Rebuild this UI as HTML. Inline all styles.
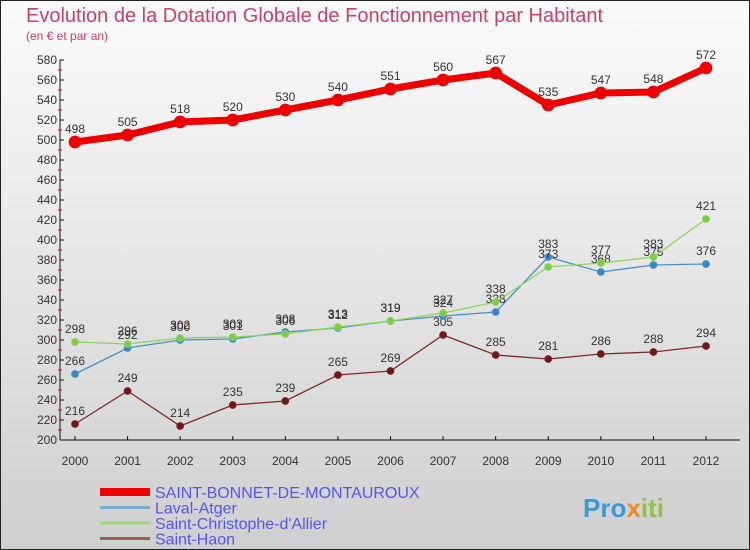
<!DOCTYPE html>
<html><head><meta charset="utf-8"><style>
body{margin:0;width:750px;height:550px;overflow:hidden;font-family:"Liberation Sans",sans-serif}
svg{display:block}
</style></head><body>
<svg id="c" width="750" height="550" xmlns="http://www.w3.org/2000/svg">
<defs><linearGradient id="bg" x1="0" y1="0" x2="0" y2="1"><stop offset="0" stop-color="#fbfbfb"/><stop offset="1" stop-color="#cfcfcf"/></linearGradient></defs>
<rect x="0" y="0" width="750" height="550" fill="url(#bg)" stroke="#222" stroke-width="2"/>
<text x="26" y="22" font-size="20" fill="#c8406e">Evolution de la Dotation Globale de Fonctionnement par Habitant</text>
<text x="26" y="40" font-size="12" fill="#c8406e">(en € et par an)</text>
<g id="axes"></g><g id="series"></g><g id="legend"></g>
<text x="583" y="517" font-size="26" font-weight="bold" fill="#3a9ad9">Pro<tspan fill="#f08a1c">x</tspan><tspan fill="#8bc34a">iti</tspan></text>
</svg>
<script>
const years=[2000,2001,2002,2003,2004,2005,2006,2007,2008,2009,2010,2011,2012];
const yTicks=[200,220,240,260,280,300,320,340,360,380,400,420,440,460,480,500,520,540,560,580];
const bonnet=[498,505,518,520,530,540,551,560,567,535,547,548,572];
const laval=[266,292,300,301,308,312,319,324,328,383,368,375,376];
const christophe=[298,296,302,303,306,313,319,327,338,373,377,383,421];
const haon=[216,249,214,235,239,265,269,305,285,281,286,288,294];
const NS="http://www.w3.org/2000/svg";
const xs=i=>75+i*(706-75)/12;
const ys=v=>440-(v-200)*(380/380);
function mk(t,a,p){const e=document.createElementNS(NS,t);for(const k in a)e.setAttribute(k,a[k]);p.appendChild(e);return e;}
const ax=document.getElementById('axes');
let yl=mk('line',{x1:60,y1:60,x2:60,y2:440,stroke:'#111'},ax);


let xl=mk('line',{x1:60,y1:440,x2:740,y2:440,stroke:'#111'},ax);


yTicks.forEach(v=>{
 mk('line',{x1:60,y1:ys(v),x2:64,y2:ys(v),stroke:'#111'},ax);
 if(v<580)mk('line',{x1:58,y1:ys(v+10),x2:62,y2:ys(v+10),stroke:'#e00'},ax);
 const t=mk('text',{x:57,y:ys(v)+4,'font-size':12,'text-anchor':'end',fill:'#333'},ax);
 t.textContent=v;
 
 
});
years.forEach((y,i)=>{
 mk('line',{x1:xs(i),y1:436,x2:xs(i),y2:440,stroke:'#111'},ax);
 const t=mk('text',{x:xs(i),y:465,'font-size':12,'text-anchor':'middle',fill:'#333'},ax);
 t.textContent=y;
 
 
});
const sg=document.getElementById('series');
function series(vals,color,w,r,dot,name,below){
 const g=mk('g',{},sg);
 
 
 mk('polyline',{points:vals.map((v,i)=>xs(i)+','+ys(v)).join(' '),fill:'none',stroke:color,'stroke-width':w},g);
 vals.forEach((v,i)=>{
  const c=mk('circle',{cx:xs(i),cy:ys(v),r:r,fill:dot,stroke:color,'stroke-width':0.8},g);
  
  
  const t=mk('text',{x:xs(i),y:ys(v)-9,'font-size':12,'text-anchor':'middle',fill:'#333'},g);
  t.textContent=v;
 });
}
series(haon,'#7a2a2a',1.3,3.5,'#6a1a1a','series-saint-haon');
series(laval,'#4a90c8',1.3,3.5,'#3a86c8','series-laval-atger');
series(christophe,'#8ad65a',1.3,3.5,'#7ccc44','series-saint-christophe');
series(bonnet,'#ee0000',7,6,'#ee0000','series-saint-bonnet');
const lg=document.getElementById('legend');
const names=['SAINT-BONNET-DE-MONTAUROUX','Laval-Atger','Saint-Christophe-d\'Allier','Saint-Haon'];
const cols=['#ee0000','#7aaed0','#9ad67a','#9a6060'];
const wids=[8,3,3,3];
names.forEach((n,i)=>{
 const y=492+i*15.5;
 const l=mk('line',{x1:100,y1:y,x2:150,y2:y,stroke:cols[i],'stroke-width':wids[i]},lg);
 
 
 const t=mk('text',{x:155,y:y+6,'font-size':16,fill:'#5555ee'},lg);
 t.textContent=n;
 
 
});
</script>
</body></html>
